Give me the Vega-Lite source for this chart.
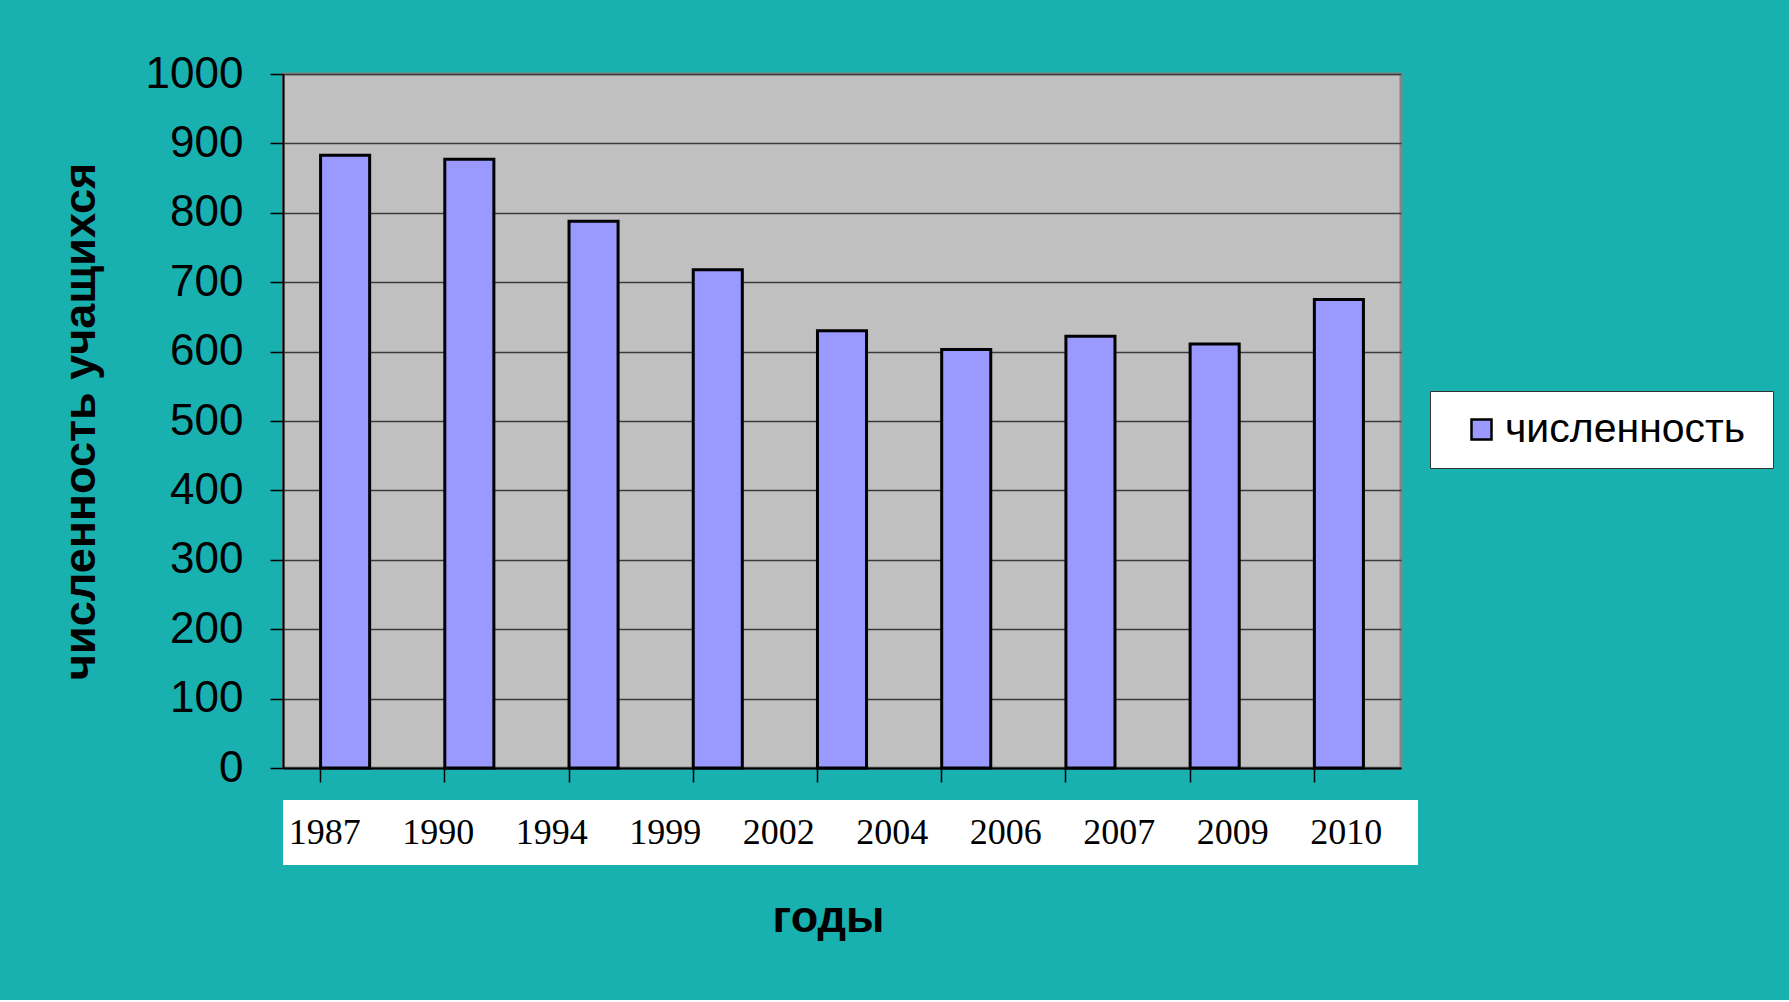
{
  "$schema": "https://vega.github.io/schema/vega-lite/v6.json",
  "background": "#19b0b0",
  "autosize": {"type": "pad"},
  "padding": {"left": 56, "top": 50, "right": 15, "bottom": 60},
  "spacing": 8,
  "config": {
    "font": "Liberation Sans",
    "view": {"stroke": null}
  },
  "datasets": {
    "bars": [
      {"year": "1987", "count": 883, "series": "численность"},
      {"year": "1990", "count": 877, "series": "численность"},
      {"year": "1994", "count": 788, "series": "численность"},
      {"year": "1999", "count": 718, "series": "численность"},
      {"year": "2002", "count": 630, "series": "численность"},
      {"year": "2004", "count": 603, "series": "численность"},
      {"year": "2007", "count": 622, "series": "численность"},
      {"year": "2009", "count": 611, "series": "численность"},
      {"year": "2010", "count": 675, "series": "численность"}
    ],
    "labels": [
      {"label": "1987"}, {"label": "1990"}, {"label": "1994"}, {"label": "1999"}, {"label": "2002"},
      {"label": "2004"}, {"label": "2006"}, {"label": "2007"}, {"label": "2009"}, {"label": "2010"}
    ]
  },
  "vconcat": [
    {
      "width": 1118,
      "height": 694,
      "data": {"name": "bars"},
      "view": {"fill": "#c0c0c0", "stroke": "#858585", "strokeWidth": 3},
      "mark": {"type": "bar", "stroke": "black", "strokeWidth": 3},
      "encoding": {
        "x": {
          "field": "year", "type": "nominal", "sort": null,
          "scale": {"paddingInner": 0.605, "paddingOuter": 0.3025},
          "axis": {
            "labels": false, "title": null, "grid": false,
            "ticks": true, "tickSize": 14, "tickColor": "black", "tickWidth": 1.5, "bandPosition": 0,
            "domainColor": "black", "domainWidth": 2
          }
        },
        "y": {
          "field": "count", "type": "quantitative",
          "scale": {"domain": [0, 1000], "nice": false},
          "axis": {
            "values": [0, 100, 200, 300, 400, 500, 600, 700, 800, 900, 1000],
            "format": "d",
            "title": "численность учащихся",
            "titleFontSize": 45, "titleFontWeight": "bold", "titleColor": "black", "titlePadding": 42,
            "labelFontSize": 44, "labelColor": "black", "labelPadding": 27,
            "tickSize": 13, "tickColor": "black", "tickWidth": 1.5,
            "domainColor": "black", "domainWidth": 2,
            "grid": true, "gridColor": "#3a3a3a", "gridWidth": 1.5
          }
        },
        "color": {
          "field": "series", "type": "nominal",
          "scale": {"range": ["#9999ff"]},
          "legend": {
            "title": " ", "titleOrient": "right", "titlePadding": 10, "titleFontSize": 10,
            "orient": "none", "legendX": 1147, "legendY": 317,
            "fillColor": "white", "strokeColor": "#333333", "padding": 18,
            "symbolType": "square", "symbolSize": 400, "symbolOffset": 13,
            "symbolStrokeColor": "black", "symbolStrokeWidth": 2.5, "symbolFillColor": "#9999ff",
            "labelFontSize": 41, "labelColor": "black", "labelOffset": 3, "labelLimit": 400
          }
        }
      }
    },
    {
      "width": 1135,
      "height": 65,
      "data": {"name": "labels"},
      "view": {"fill": "white", "stroke": null},
      "mark": {"type": "text", "font": "Liberation Serif", "fontSize": 36, "dx": -15, "color": "black"},
      "encoding": {
        "x": {
          "field": "label", "type": "nominal", "sort": null,
          "scale": {"paddingInner": 0, "paddingOuter": 0},
          "axis": {
            "labels": false, "ticks": false, "domain": false, "grid": false,
            "title": "годы", "titleFontSize": 45, "titleFontWeight": "bold", "titleColor": "black", "titlePadding": 30,
            "titleX": 545, "titleAlign": "center"
          }
        },
        "text": {"field": "label"}
      }
    }
  ]
}
